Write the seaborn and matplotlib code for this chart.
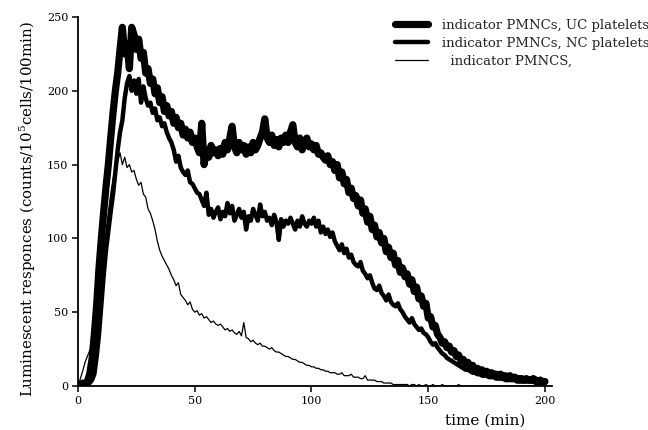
import matplotlib
matplotlib.use("Agg")
import matplotlib.pyplot as plt
import pandas as pd
import seaborn as sns

# ---- data ----
time_min = list(range(0, 201))

uc_platelets = [
    0, 1, 2, 1, 3, 8, 18, 35, 55, 80,
    100, 118, 135, 150, 168, 185, 200, 212, 228, 243,
    225, 232, 215, 243, 238, 228, 235, 222, 226, 212,
    215, 205, 208, 198, 202, 192, 196, 186, 190, 183,
    186, 178, 182, 175, 178, 170, 174, 168, 172, 165,
    168, 162, 158, 178, 150, 160, 155, 163, 158, 160,
    156, 161, 157, 165, 160, 168, 176, 162, 158, 165,
    160, 163, 157, 162, 158, 165, 160, 163, 168, 172,
    181, 168, 165, 170, 163, 167, 162, 168, 165, 170,
    165, 172, 177, 165, 162, 168, 160, 165, 168, 162,
    164, 160, 163, 157, 158, 155, 153, 156, 150, 152,
    146, 150, 141, 145, 137, 140, 131, 134, 127, 129,
    122, 126, 117, 120, 111, 115, 106, 109, 101, 104,
    97, 100, 91, 94, 87, 90, 82, 85, 77, 80,
    74, 76, 69, 72, 64, 67, 59, 61, 54, 56,
    46, 47, 40, 41, 35, 33, 29, 30, 26, 27,
    23, 24, 20, 21, 17, 18, 15, 16, 13, 14,
    11, 12, 10, 11, 9, 10, 8, 9, 8, 8,
    7, 8, 6, 7, 6, 7, 5, 6, 5, 5,
    5, 4, 5, 4, 4, 5, 4, 3, 4, 3, 3,
]

nc_platelets = [
    0, 0, 1, 0, 1, 2, 4, 8, 20, 35,
    55, 75, 92, 105, 118, 130, 145, 160, 172, 180,
    195, 205, 210, 200, 207, 198, 208, 192, 203, 195,
    190, 192, 185, 188, 180, 182, 176, 178, 172, 168,
    165, 160, 152, 156, 148, 145, 143, 146, 138, 137,
    134, 131, 130, 126, 122, 131, 116, 120, 114, 118,
    121, 113, 118, 115, 124, 117, 122, 112, 116, 120,
    114, 118, 106, 115, 112, 120, 116, 112, 123, 115,
    118, 112, 114, 109, 116, 111, 99, 113, 108, 112,
    110, 114, 110, 106, 112, 108, 115, 110, 108, 112,
    110, 114, 108, 112, 104, 108, 103, 106, 101, 104,
    98, 95, 92, 96, 90, 93, 87, 89, 84, 82,
    81, 84, 78, 76, 73, 75, 70, 66, 65, 68,
    63, 61, 58, 62, 57, 55, 54, 56, 52, 50,
    47, 45, 43, 46, 42, 40, 38, 39, 36, 35,
    33, 30, 28, 29, 26, 24, 22, 21, 19, 18,
    17, 16, 15, 14, 13, 12, 11, 11, 10, 9,
    9, 8, 8, 7, 7, 7, 6, 6, 6, 5,
    5, 5, 5, 4, 4, 4, 4, 4, 3, 3,
    3, 3, 3, 3, 3, 3, 2, 2, 2, 2, 2,
]

pmnc_alone = [
    0, 5, 10, 16, 20, 24, 28, 32, 40, 55,
    72, 90, 105, 118, 130, 140, 148, 152, 158, 150,
    155, 148, 150, 145, 146, 140, 136, 138, 130, 128,
    120, 117, 112, 106, 98, 92, 88, 85, 82, 79,
    75, 72, 68, 70, 62, 60, 58, 55, 57, 52,
    50, 51, 48, 49, 46, 47, 45, 43, 44, 42,
    41, 42, 40, 38, 39, 37, 38, 36, 35, 37,
    34, 43, 33, 32, 30, 31, 29, 28, 29, 27,
    27, 26, 25, 26, 24, 23, 23, 22, 21, 20,
    20, 19, 18, 18, 17, 16, 16, 15, 14, 14,
    13, 13, 12, 12, 11, 11, 10, 10, 9, 9,
    9, 8, 8, 9, 7, 7, 7, 8, 6, 6,
    6, 5, 5, 7, 4, 4, 4, 4, 3, 3,
    3, 2, 2, 2, 2, 1, 1, 1, 1, 1,
    1, 1, 0, 1, 1, 0, 1, 0, 0, 1,
    0, 0, 1, 0, 0, 0, 1, 0, 0, 0,
    0, 0, 0, 1, 0, 0, 0, 0, 0, 0,
    0, 0, 0, 0, 0, 0, 0, 0, 0, 0,
    0, 0, 0, 0, 0, 0, 0, 0, 0, 0,
    0, 0, 0, 0, 0, 0, 0, 0, 0, 0, 0,
]

series_labels = ["indicator PMNCs, UC platelets",
                 "indicator PMNCs, NC platelets",
                 "  indicator PMNCS,"]
x_ticks = [0, 50, 100, 150, 200]
y_ticks = [0, 50, 100, 150, 200, 250]
x_label = "time (min)"
y_label = "Luminescent responces (counts/10$^5$cells/100min)"

# ---- build long table ----
frames = []
for name, vals in [(series_labels[2], pmnc_alone),
                   (series_labels[1], nc_platelets),
                   (series_labels[0], uc_platelets)]:
    frames.append(pd.DataFrame({"time": time_min, "value": vals, "series": name}))
df = pd.concat(frames, ignore_index=True)

sns.set_theme(style="ticks")
plt.rcParams["font.family"] = ["DejaVu Serif"]
plt.rcParams["mathtext.fontset"] = "dejavuserif"

W, H = 648, 430
fig = plt.figure(figsize=(W / 100, H / 100), dpi=100)
fig.patch.set_facecolor("white")
x0, x1, y0, y1 = 78, 552, 386, 17
ax = fig.add_axes([x0 / W, 1 - y0 / H, (x1 - x0) / W, (y0 - y1) / H])

hue_order = [series_labels[2], series_labels[1], series_labels[0]]
sizes = {series_labels[0]: 5.2, series_labels[1]: 3.2, series_labels[2]: 0.9}
palette = {s: "black" for s in series_labels}
sns.lineplot(data=df, x="time", y="value", hue="series", hue_order=hue_order,
             size="series", sizes=sizes, palette=palette, estimator=None,
             sort=False, legend=False, ax=ax)

ax.set_xlim(0, 203)
ax.set_ylim(0, 250)
ax.set_xticks(x_ticks)
ax.set_yticks(y_ticks)
ax.set_xlabel("")
ax.set_ylabel("")
sns.despine(ax=ax)
for sp in ["left", "bottom"]:
    ax.spines[sp].set_linewidth(1.3)
    ax.spines[sp].set_color("black")
ax.tick_params(axis="both", direction="out", length=4, width=1.1,
               color="black", labelsize=8, labelcolor="black", pad=3)

fig.text(485 / W, 1 - 421 / H, x_label, ha="center", va="center",
         fontsize=11, color="black")
fig.text(28 / W, 1 - 209 / H, y_label, ha="center", va="center",
         rotation=90, fontsize=10.8, color="black")

lines = ax.get_lines()
handles = [lines[2], lines[1], lines[0]]
leg = ax.legend(handles, series_labels, loc="upper left",
                bbox_to_anchor=(395 / W, 1 - 19 / H),
                bbox_transform=fig.transFigure, frameon=False,
                fontsize=9.5, handlelength=2.5, handletextpad=1.05,
                labelspacing=0.38, borderpad=0, borderaxespad=0)

fig.savefig("out.png", dpi=100, facecolor="white")
